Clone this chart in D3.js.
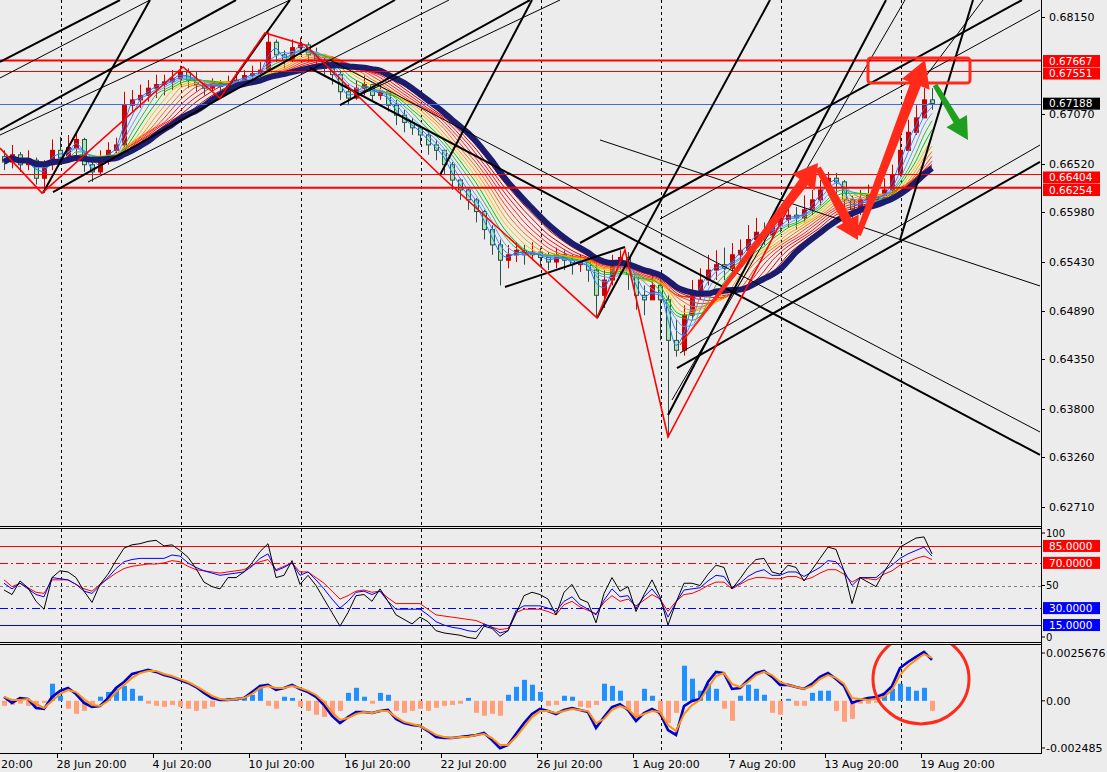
<!DOCTYPE html>
<html><head><meta charset="utf-8">
<script src="https://cdn.jsdelivr.net/npm/d3@7"></script>
<style>body{margin:0;background:#ececec;overflow:hidden}svg{display:block}text{font-family:"DejaVu Sans",sans-serif;font-size:11px}</style>
</head><body><svg id="c" width="1107" height="772"></svg>
<script>
// ---------- DATA (H4 price; one entry = one plotted bar) ----------
const firstOpen = 0.6660;
const closes = [0.6654,0.6662,0.6651,0.6656,0.6636,0.6651,0.6667,0.6659,0.6670,0.6679,
0.6651,0.6643,0.6656,0.6667,0.6673,0.6717,0.6723,0.6728,0.6736,0.6740,
0.6743,0.6747,0.6754,0.6745,0.6740,0.6736,0.6741,0.6738,0.6743,0.6745,
0.6750,0.6752,0.6756,0.6787,0.6773,0.6767,0.6781,0.6784,0.6773,0.6767,
0.6758,0.6751,0.6732,0.6725,0.6736,0.6740,0.6728,0.6732,0.6717,0.6706,
0.6698,0.6692,0.6684,0.6673,0.6667,0.6651,0.6634,0.6623,0.6612,0.6599,
0.6579,0.6562,0.6545,0.6551,0.6556,0.6551,0.6554,0.6548,0.6543,0.6551,
0.6545,0.6540,0.6543,0.6534,0.6506,0.6523,0.6540,0.6548,0.6529,0.6506,
0.6501,0.6517,0.6501,0.6456,0.6445,0.6484,0.6506,0.6523,0.6534,0.6540,
0.6536,0.6551,0.6556,0.6568,0.6576,0.6573,0.6584,0.6590,0.6595,0.6592,
0.6601,0.6612,0.6623,0.6636,0.6632,0.6612,0.6601,0.6612,0.6617,0.6612,
0.6623,0.6640,0.6667,0.6687,0.6703,0.6723,0.6719];
const highs = [0.6667,0.6673,0.6665,0.6667,0.6659,0.6656,0.6679,0.6682,0.6684,0.6687,
0.6681,0.6656,0.6667,0.6676,0.6681,0.6732,0.6734,0.6740,0.6745,0.6751,
0.6751,0.6756,0.6761,0.6758,0.6754,0.6745,0.6747,0.6745,0.6750,0.6754,
0.6756,0.6761,0.6765,0.6798,0.6790,0.6778,0.6790,0.6792,0.6787,0.6781,
0.6770,0.6762,0.6754,0.6740,0.6745,0.6750,0.6740,0.6740,0.6734,0.6723,
0.6712,0.6703,0.6695,0.6687,0.6679,0.6667,0.6654,0.6636,0.6625,0.6614,
0.6601,0.6584,0.6568,0.6562,0.6565,0.6562,0.6565,0.6559,0.6554,0.6559,
0.6556,0.6551,0.6551,0.6548,0.6540,0.6534,0.6551,0.6556,0.6554,0.6529,
0.6517,0.6529,0.6523,0.6506,0.6479,0.6495,0.6523,0.6536,0.6551,0.6556,
0.6559,0.6564,0.6568,0.6584,0.6592,0.6587,0.6595,0.6603,0.6606,0.6604,
0.6617,0.6623,0.6634,0.6643,0.6642,0.6634,0.6617,0.6623,0.6629,0.6625,
0.6636,0.6651,0.6684,0.6701,0.6717,0.6736,0.6736];
const lows = [0.6645,0.6647,0.6643,0.6645,0.6629,0.6620,0.6645,0.6651,0.6656,0.6659,
0.6643,0.6632,0.6640,0.6651,0.6656,0.6670,0.6710,0.6714,0.6721,0.6725,
0.6728,0.6734,0.6740,0.6736,0.6732,0.6728,0.6732,0.6732,0.6734,0.6736,
0.6740,0.6743,0.6745,0.6754,0.6765,0.6758,0.6765,0.6773,0.6765,0.6758,
0.6751,0.6740,0.6723,0.6717,0.6723,0.6728,0.6721,0.6723,0.6710,0.6695,
0.6687,0.6684,0.6673,0.6662,0.6656,0.6640,0.6623,0.6612,0.6601,0.6587,
0.6568,0.6551,0.6517,0.6536,0.6543,0.6540,0.6545,0.6539,0.6534,0.6536,
0.6534,0.6529,0.6532,0.6521,0.6481,0.6492,0.6517,0.6529,0.6512,0.6490,
0.6484,0.6501,0.6456,0.6349,0.6438,0.6439,0.6479,0.6501,0.6517,0.6523,
0.6523,0.6529,0.6543,0.6551,0.6562,0.6562,0.6570,0.6576,0.6581,0.6579,
0.6587,0.6595,0.6606,0.6617,0.6617,0.6601,0.6592,0.6595,0.6606,0.6603,
0.6612,0.6617,0.6638,0.6667,0.6684,0.6703,0.6712];

// RSI lines (black fast, blue, red slow)
const rsiBlack = [46,42,54,48,36,29,57,63,62,57,45,35,51,60,72,83,86,87,89,90,
85,86,81,75,65,53,49,47,57,57,62,70,80,87,57,59,72,51,59,50,
38,26,14,26,41,42,36,47,36,24,20,16,22,18,10,8,7,6,4,3,
14,12,5,10,25,41,44,42,38,24,44,51,38,35,17,43,57,45,49,27,
42,55,40,15,35,52,52,50,60,68,66,47,56,66,73,74,62,60,68,66,
54,64,74,84,82,63,34,57,53,49,62,73,84,88,92,93,78];
const rsiBlue = [52,47,52,47,42,40,57,56,55,51,45,43,50,57,65,71,73,74,74,74,
74,77,76,70,66,63,61,59,60,61,62,67,74,78,63,66,70,59,62,55,
47,38,30,36,44,45,42,45,36,29,29,29,29,24,18,15,13,12,10,9,
16,13,8,10,28,32,32,32,30,27,36,40,33,29,24,37,47,40,41,30,
40,47,38,22,35,46,47,48,54,59,58,48,52,58,62,64,59,59,62,62,
58,62,66,72,71,63,50,57,57,57,63,68,74,78,81,84,76];
const rsiRed = [55,49,52,48,44,43,55,55,55,51,47,45,51,56,61,65,67,68,69,69,
70,72,71,67,64,63,62,61,62,63,64,68,71,73,64,67,70,62,62,57,
52,45,38,41,45,46,44,45,39,34,34,34,34,29,24,23,22,21,20,19,
16,13,11,12,26,29,29,29,27,24,33,36,31,28,25,35,41,36,38,32,
37,42,38,27,36,42,43,46,50,53,53,47,51,55,57,57,56,56,58,58,
55,57,61,64,64,60,53,57,56,55,60,63,68,71,74,76,73];
const rsiLevels = [85,70,50,30,15];

// MACD panel, in units of 0.0001
const macdMain = [2.0,-1.1,1.4,0.9,-3.7,-4.2,2.0,5.1,6.6,3.5,
-1.1,-3.2,-2.7,1.4,6.6,9.7,13.8,14.9,15.9,14.9,13.3,12.3,10.7,9.2,7.1,4.0,1.4,0.4,0.4,0.9,
1.4,4.5,7.6,8.2,5.6,6.6,8.2,6.1,4.5,2.0,-2.2,-7.8,-11.5,-8.4,-5.8,-5.8,-6.3,-5.3,-4.7,-9.4,
-11.5,-12.5,-13.0,-15.6,-18.7,-19.2,-19.2,-18.7,-18.2,-17.6,-16.6,-20.2,-24.4,-22.8,-17.1,-11.5,-6.8,-4.2,-5.3,-6.8,
-4.7,-3.7,-4.7,-5.8,-14.0,-8.4,-3.2,-1.7,-4.7,-10.4,-6.3,-4.2,-6.3,-15.1,-17.6,-2.7,-0.1,0.9,9.7,14.9,
14.3,6.1,6.6,10.7,14.3,15.4,12.3,8.2,8.2,7.1,6.1,8.7,12.3,14.3,11.2,7.6,-1.1,0.4,1.4,2.0,
3.5,7.6,16.9,20.0,22.6,25.2,21.1];
const macdSignal = [2.0,0.4,0.4,0.9,-1.7,-3.7,-0.1,3.5,5.6,4.5,
0.9,-2.2,-2.7,-0.1,4.5,8.2,11.8,14.3,15.4,15.4,13.8,12.8,11.2,9.7,7.6,5.1,2.5,0.9,0.4,0.9,
1.4,3.5,6.6,7.6,6.6,6.6,7.6,6.6,5.1,3.0,-0.6,-5.8,-9.9,-8.9,-6.8,-5.8,-6.3,-5.3,-5.3,-8.4,
-10.9,-12.0,-13.0,-15.1,-17.6,-18.7,-19.2,-18.7,-18.7,-17.6,-17.1,-19.2,-22.8,-22.8,-18.7,-13.5,-8.4,-5.3,-5.3,-6.3,
-5.3,-4.2,-4.7,-5.3,-11.5,-9.4,-4.7,-2.7,-4.2,-8.4,-6.8,-5.3,-5.8,-12.5,-15.6,-6.8,-2.2,0.4,6.6,12.8,
14.3,8.7,7.1,9.7,13.3,14.9,13.3,9.7,8.2,7.1,6.1,7.6,11.2,13.3,11.8,8.7,1.4,0.9,0.4,0.9,
2.0,5.6,13.3,18.0,21.1,24.1,22.1];
const macdHist = [-2.6,-2.1,-1.5,-2.6,-3.1,-1.0,8.8,2.6,-4.1,-6.7,
-5.2,-2.6,2.1,4.6,6.2,7.7,6.2,2.6,-1.5,-2.6,-3.1,-2.1,-3.1,-4.1,-5.2,-4.1,-3.1,1.0,1.5,1.5,
2.1,3.1,7.7,-2.6,-4.1,2.1,1.5,-3.1,-5.2,-7.2,-8.3,-7.7,-5.2,4.1,6.7,2.1,-1.5,4.1,3.1,-5.2,
-6.2,-5.2,-4.1,-5.2,-3.6,-2.6,-2.1,-1.5,1.5,-6.2,-7.7,-6.7,-7.7,3.1,7.2,10.8,8.3,4.6,-2.6,-2.1,
2.6,2.1,-3.1,-3.6,-2.1,8.8,7.7,5.2,-5.2,-7.7,6.2,2.6,-7.7,-11.4,-6.2,18.1,11.4,5.2,8.8,6.2,
-4.1,-10.3,2.6,8.3,6.2,3.1,-6.2,-7.2,1.0,-2.6,-2.6,4.1,5.2,5.2,-5.2,-10.8,-9.3,-1.5,-1.5,-1.0,
4.1,6.2,8.8,7.2,5.2,6.7,-5.2];
const macdTickValues = [25.676, 0, -24.85];
const macdTickLabels = ["0.0025676","0.00","-0.002485"];

// axis labels (first one is the visible tail of the cut-off "24 Jun 20:00")
const priceTicks = [0.68150,0.67070,0.66520,0.65980,0.65430,0.64890,0.64350,0.63800,0.63260,0.62710];
const timeLabels = ["20:00","28 Jun 20:00","4 Jul 20:00","10 Jul 20:00","16 Jul 20:00","22 Jul 20:00","26 Jul 20:00","1 Aug 20:00","7 Aug 20:00","13 Aug 20:00","19 Aug 20:00"];
const timeLabelBars = [-5.375,6.625,18.625,30.625,42.625,54.625,66.625,78.625,90.625,102.625,114.625];

// horizontal levels
const redLevelsThick = [0.67667,0.66254];
const redLevelsThin = [0.67551,0.66404];
const bidPrice = 0.67188;

// drawn objects [bar1, price1, bar2, price2]
const thickLines = [
 [-0.5,0.67651,14.5,0.68339],[-0.5,0.66896,29,0.68339],[4.875,0.66196,18.25,0.68339],
 [6.125,0.66207,48.875,0.68339],[27,0.67251,35.75,0.68339],[42,0.67173,65.75,0.68339],
 [54.5,0.66396,66,0.68339],[62.625,0.65153,77.625,0.65597],[74.125,0.64809,95.75,0.68339],
 [38.25,0.67584,129.5,0.63288],[72,0.65641,127.25,0.68339],[83,0.63732,110.25,0.68339],
 [84.125,0.64253,129.5,0.66541],[112,0.65675,121.125,0.68339]];
const thinLines = [
 [-0.5,0.67473,18.25,0.68339],[-0.5,0.66840,35.75,0.68339],[10.5,0.66318,55.625,0.68339],
 [40.75,0.67673,129.5,0.63543],[74.5,0.66785,129.5,0.65164],[82,0.65908,129.5,0.68228],
 [83.5,0.63898,112.625,0.68339],[84.5,0.64420,129.5,0.66729],[114.875,0.67451,122.375,0.68339],
 [44.5,0.67284,69.5,0.68339]];
const zigzag = [[-0.5,0.66696],[4.75,0.66196],[22.375,0.67595],[27,0.67251],[32.625,0.67973],
 [37.625,0.67839],[54.5,0.66396],[74.125,0.64809],[77.625,0.65564],[83,0.63487],[98.25,0.66063]];
const redArrows = [[84.5,0.64509,101.75,0.66529],[101.75,0.66474,106.75,0.65675],[106.75,0.65730,115.125,0.67673]];
const greenArrow = [116.375,0.67395,120.5,0.66785];
const zoneBox = [108,0.67695,120.75,0.67418];
const macdCircle = [114.625,11.3];

const maPeriods = [2,3,4,5,6,7,8,9,10,11,12,13,14];
const maColors = ['#1e78ff','#3c8cff','#5a9fff','#3cb43c','#00c800','#ffc000','#ff9a00','#ff6a00','#ff3c00','#ff2020','#ee1010','#dd0000','#cc0000'];
const slowPeriod = 15;

// ---------- SCALES ----------
const svg = d3.select('#c');
const x = d3.scaleLinear().domain([-0.5,129.5]).range([0,1040]);
const yP = d3.scaleLinear().domain([0.62510,0.68339]).range([525,0]);
const yR = d3.scaleLinear().domain([0,100]).range([642,529]);
const yM = d3.scaleLinear().domain([-24.85,25.676]).range([749,651]);

svg.append('rect').attr('width',1107).attr('height',772).attr('fill','#ececec');
const defs = svg.append('defs');
function clip(id,y0,y1){defs.append('clipPath').attr('id',id).append('rect').attr('x',0).attr('y',y0).attr('width',1041).attr('height',y1-y0);}
clip('cm',0,525); clip('cr',529,642); clip('cd',645,753);

const gM = svg.append('g').attr('clip-path','url(#cm)');
const gR = svg.append('g').attr('clip-path','url(#cr)');
const gD = svg.append('g').attr('clip-path','url(#cd)');

// grid (time grid only where bars exist)
const gridBars = d3.range(7.125,closes.length,15);
[[gM,0,525],[gR,529,642],[gD,645,753]].forEach(([g,a,b])=>{
  g.selectAll(null).data(gridBars).enter().append('line')
   .attr('x1',d=>Math.round(x(d))+0.5).attr('x2',d=>Math.round(x(d))+0.5).attr('y1',a).attr('y2',b)
   .attr('stroke','#000').attr('stroke-dasharray','3,3');
});

// ---------- MAIN: candles ----------
const bars = closes.map((c,i)=>{const o=i?closes[i-1]:firstOpen;return {i,o,c,h:Math.max(highs[i],o,c),l:Math.min(lows[i],o,c)};});
const gc = gM.append('g');
bars.forEach(b=>{
  const up=b.c>=b.o, cx=Math.round(x(b.i))+0.5;
  gc.append('line').attr('x1',cx).attr('x2',cx).attr('y1',yP(b.h)).attr('y2',yP(b.l)).attr('stroke',up?'#cc0000':'#2f4f4f');
  const t=yP(Math.max(b.o,b.c)), btm=yP(Math.min(b.o,b.c));
  gc.append('rect').attr('x',cx-2).attr('y',t).attr('width',4).attr('height',Math.max(1,btm-t))
    .attr('fill',up?'#cc0000':'#a8e8a8').attr('stroke',up?'#cc0000':'#2f4f4f').attr('stroke-width',1);
});

// moving averages derived from closes
function sma(a,n){return a.map((_,i)=>d3.mean(a.slice(Math.max(0,i-n+1),i+1)));}
const maLine = d3.line().x((d,i)=>x(i)).y(d=>yP(d)).curve(d3.curveMonotoneX);
maPeriods.slice().reverse().forEach((p,k)=>{
  const idx = maPeriods.length-1-k;
  gM.append('path').attr('d',maLine(sma(closes,p))).attr('fill','none').attr('stroke',maColors[idx]).attr('stroke-width',1);
});
gM.append('path').attr('d',maLine(sma(closes,slowPeriod))).attr('fill','none').attr('stroke','#1c1c6e').attr('stroke-width',6);

// horizontal levels
redLevelsThick.forEach(v=>gM.append('line').attr('x1',0).attr('x2',1041).attr('y1',yP(v)).attr('y2',yP(v)).attr('stroke','#ff0000').attr('stroke-width',2));
redLevelsThin.forEach(v=>gM.append('line').attr('x1',0).attr('x2',1041).attr('y1',Math.round(yP(v))+0.5).attr('y2',Math.round(yP(v))+0.5).attr('stroke','#ff0000').attr('stroke-width',1));
gM.append('line').attr('x1',0).attr('x2',1041).attr('y1',Math.round(yP(bidPrice))+0.5).attr('y2',Math.round(yP(bidPrice))+0.5).attr('stroke','#3d6ee8');

// trend lines
thickLines.forEach(l=>gM.append('line').attr('x1',x(l[0])).attr('y1',yP(l[1])).attr('x2',x(l[2])).attr('y2',yP(l[3])).attr('stroke','#000').attr('stroke-width',2));
thinLines.forEach(l=>gM.append('line').attr('x1',x(l[0])).attr('y1',yP(l[1])).attr('x2',x(l[2])).attr('y2',yP(l[3])).attr('stroke','#000').attr('stroke-width',1));
gM.append('path').attr('d',d3.line().x(d=>x(d[0])).y(d=>yP(d[1]))(zigzag)).attr('fill','none').attr('stroke','#ff0000').attr('stroke-width',1.6);

// arrows
function arrow(a,color,tailW,shaftW,headW,headL){
  const x1=x(a[0]),y1=yP(a[1]),x2=x(a[2]),y2=yP(a[3]);
  const dx=x2-x1,dy=y2-y1,L=Math.hypot(dx,dy),ux=dx/L,uy=dy/L,nx=-uy,ny=ux;
  const bx=x2-ux*headL,by=y2-uy*headL;
  const pts=[[x1+nx*tailW/2,y1+ny*tailW/2],[bx+nx*shaftW/2,by+ny*shaftW/2],[bx+nx*headW/2,by+ny*headW/2],[x2,y2],
    [bx-nx*headW/2,by-ny*headW/2],[bx-nx*shaftW/2,by-ny*shaftW/2],[x1-nx*tailW/2,y1-ny*tailW/2]];
  gM.append('polygon').attr('points',pts.map(p=>p.join(',')).join(' ')).attr('fill',color);
}
arrow(redArrows[0],'#ff2a1a',1,10,28,24);
arrow(redArrows[1],'#ff2a1a',6,10,26,22);
arrow(redArrows[2],'#ff2a1a',6,11,30,26);
arrow(greenArrow,'#1ea01e',5,7,24,22);

// zone box
gM.append('rect').attr('x',x(zoneBox[0])).attr('y',yP(zoneBox[1])).attr('width',x(zoneBox[2])-x(zoneBox[0])).attr('height',yP(zoneBox[3])-yP(zoneBox[1]))
  .attr('rx',3).attr('fill','none').attr('stroke','#ff2a1a').attr('stroke-width',3);

// ---------- RSI ----------
const lvlStyle = {85:['#ff0000',null],70:['#ff0000','8,3,2,3'],50:['#808080','3,3'],30:['#0000ff','8,3,2,3'],15:['#0000ff',null]};
rsiLevels.forEach(v=>gR.append('line').attr('x1',0).attr('x2',1041).attr('y1',Math.round(yR(v))+0.5).attr('y2',Math.round(yR(v))+0.5)
  .attr('stroke',lvlStyle[v][0]).attr('stroke-dasharray',lvlStyle[v][1]));
const rl = d3.line().x((d,i)=>x(i)).y(d=>yR(d));
[[rsiRed,'#ff0000'],[rsiBlue,'#0000ff'],[rsiBlack,'#000']].forEach(([a,c])=>gR.append('path').attr('d',rl(a)).attr('fill','none').attr('stroke',c).attr('stroke-width',1));

// ---------- MACD ----------
gD.selectAll(null).data(macdHist).enter().append('rect')
  .attr('x',(d,i)=>Math.round(x(i))-2).attr('width',5)
  .attr('y',d=>Math.min(yM(0),yM(d))).attr('height',d=>Math.abs(yM(d)-yM(0)))
  .attr('fill',d=>d>=0?'#1e90ff':'#ffa07a');
const ml = d3.line().x((d,i)=>x(i)).y(d=>yM(d));
gD.append('path').attr('d',ml(macdMain)).attr('fill','none').attr('stroke','#0000cd').attr('stroke-width',2.6);
gD.append('path').attr('d',ml(macdSignal)).attr('fill','none').attr('stroke','#ff9010').attr('stroke-width',2);
gD.append('ellipse').attr('cx',x(macdCircle[0])).attr('cy',yM(macdCircle[1])).attr('rx',48).attr('ry',45)
  .attr('fill','none').attr('stroke','#ff2a1a').attr('stroke-width',3);

// ---------- frames / axes ----------
const fr = svg.append('g').attr('stroke','#000');
[526.5,528.5,642.5,644.5,753.5].forEach(y=>fr.append('line').attr('x1',0).attr('x2',1041).attr('y1',y).attr('y2',y));
fr.append('line').attr('x1',1041.5).attr('x2',1041.5).attr('y1',0).attr('y2',754);

const ax = svg.append('g');
const tickYs = priceTicks.map(v=>Math.round(yP(v))+0.5);
priceTicks.forEach((v,k)=>{
  const y=tickYs[k];
  ax.append('line').attr('x1',1041).attr('x2',1045).attr('y1',y).attr('y2',y).attr('stroke','#000');
  ax.append('text').attr('x',1049).attr('y',y).attr('dy','0.36em').text(d3.format('.5f')(v));
});
// value boxes, stacked so they never overlap each other or a tick label above them
function boxes(list,obstacles){
  list.sort((a,b)=>a.y-b.y);
  let last=-1e9;
  list.forEach(b=>{
    let y=Math.max(b.y,last+12.5);
    obstacles.forEach(t=>{ if(y-6<t+7 && y+6>t-7 && t<y) y=t+13; });
    last=y;
    ax.append('rect').attr('x',1043).attr('y',y-6).attr('width',57).attr('height',12).attr('fill',b.bg);
    ax.append('text').attr('x',1049).attr('y',y).attr('dy','0.36em').attr('fill','#fff').style('font-size','10.5px').text(b.label);
  });
}
boxes(redLevelsThick.concat(redLevelsThin).map(v=>({y:yP(v)+0.5,label:d3.format('.5f')(v),bg:'#ff0000'}))
  .concat([{y:yP(bidPrice),label:d3.format('.5f')(bidPrice),bg:'#000'}]), tickYs);
// RSI axis
[[100,4],[50,0],[0,-5]].forEach(([v,off])=>{
  ax.append('line').attr('x1',1041).attr('x2',1045).attr('y1',yR(v)+off).attr('y2',yR(v)+off).attr('stroke','#000');
  ax.append('text').attr('x',1046).attr('y',yR(v)+off).attr('dy','0.36em').style('font-size','10px').text(String(v));
});
boxes(rsiLevels.filter(v=>v!==50).map(v=>({y:yR(v),label:d3.format('.4f')(v),bg:v>50?'#ff0000':'#0000ff'})), []);
// MACD axis
macdTickValues.forEach((v,k)=>{
  const y=yM(v)+(k===0?2:k===2?-1:0);
  ax.append('line').attr('x1',1041).attr('x2',1045).attr('y1',y).attr('y2',y).attr('stroke','#000');
  ax.append('text').attr('x',1046).attr('y',y).attr('dy','0.36em').text(macdTickLabels[k]);
});
// time axis
timeLabelBars.forEach((b,k)=>{
  const xx=Math.round(x(b))+0.5;
  if(xx>0) ax.append('line').attr('x1',xx).attr('x2',xx).attr('y1',754).attr('y2',758).attr('stroke','#000');
  ax.append('text').attr('x',Math.max(1,xx-1)).attr('y',768).text(timeLabels[k]);
});
</script></body></html>
